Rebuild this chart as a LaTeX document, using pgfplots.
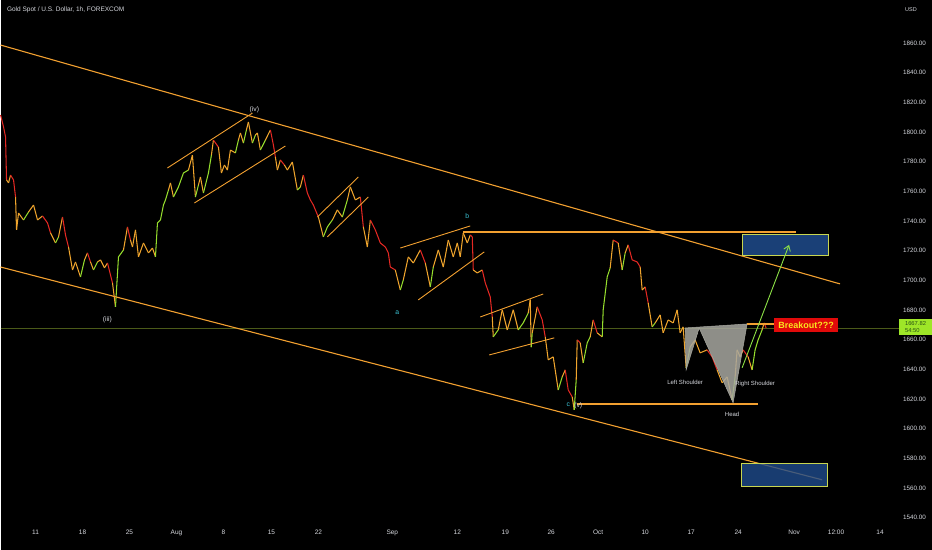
\documentclass[border=0pt]{standalone}
\usepackage{fontspec}
\setmainfont{Liberation Sans}
\usepackage{pgfplots}
\pgfplotsset{compat=1.18}
\usetikzlibrary{arrows.meta}

\definecolor{tvtext}{RGB}{214,216,222}
\definecolor{chan}{RGB}{242,160,48}
\definecolor{wave}{RGB}{60,196,214}
\definecolor{boxblue}{RGB}{31,76,140}
\definecolor{boxedge}{RGB}{200,214,80}
\definecolor{arrowgreen}{RGB}{140,225,70}
\definecolor{tag}{RGB}{158,230,40}
\definecolor{tagtext}{RGB}{40,80,20}
\definecolor{lastline}{RGB}{75,90,25}
\definecolor{hsgray}{RGB}{168,168,160}
\definecolor{brkred}{RGB}{225,10,10}
\definecolor{brkyellow}{RGB}{250,228,30}

\pgfplotsset{colormap={candle}{rgb255=(228,40,35) rgb255=(240,165,45) rgb255=(150,222,45)}}

\begin{document}
\begin{tikzpicture}
\fill[black] (0,0) rectangle (932pt,550pt);
\begin{axis}[
    at={(0pt,23pt)}, anchor=south west,
    scale only axis, width=899pt, height=527pt,
    xmin=0, xmax=899, ymin=1533.8, ymax=1889,
    clip=false,
    axis line style={draw=none},
    major tick length=0pt,
    xtick={35,82,129,176,223,271,318,392,457,505,551,598,645,691,738,794,836,880},
    xticklabels={11,18,25,Aug,8,15,22,Sep,12,19,26,Oct,10,17,24,Nov,12:00,14},
    xticklabel style={anchor=north, inner sep=0pt, yshift=-3pt, text=tvtext, font=\fontsize{6.5}{7}\selectfont},
    ytick={1540,1560,...,1860},
    yticklabel pos=right,
    yticklabel style={anchor=west, inner sep=0pt, xshift=4pt, text=tvtext, font=\fontsize{6.3}{7}\selectfont,
        /pgf/number format/fixed, /pgf/number format/fixed zerofill,
        /pgf/number format/precision=2, /pgf/number format/1000 sep={},
        /pgf/number format/assume math mode=true},
    colormap name=candle,
    point meta min=0, point meta max=1,
]

% last price line
\addplot[lastline, line width=0.6pt] coordinates {(0,1667.82) (899,1667.82)};

% price path (hourly candles traced), meta 1 = rising, 0 = falling
\addplot[mesh, point meta=explicit, line width=1.05pt] coordinates {
(0,1811.5)[0] (3,1803.4)[0] (5,1796.7)[0] (6,1767.7)[0] (8,1765.7)[1] (10,1771.0)[0]
(13,1767.7)[0] (15,1756.2)[0] (16,1734.0)[1] (18,1745.4)[0] (23,1740.7)[1] (28,1746.1)[1]
(33,1750.8)[0] (37,1740.7)[1] (42,1743.4)[0] (47,1738.7)[0] (50,1732.0)[0] (55,1725.2)[1]
(58,1729.3)[1] (62,1742.7)[0] (65,1730.6)[0] (68,1722.5)[0] (72,1707.0)[1] (75,1712.4)[0]
(80,1702.3)[1] (84,1713.8)[1] (87,1718.5)[0] (90,1712.4)[0] (93,1707.0)[1] (97,1712.4)[1]
(100,1713.8)[0] (104,1708.4)[1] (107,1711.7)[0] (112,1698.3)[0] (115,1682.1)[1] (118,1715.8)[1]
(123,1720.5)[1] (127,1736.0)[0] (130,1727.2)[0] (132,1722.5)[1] (135,1734.0)[0] (138,1715.8)[1]
(143,1725.2)[0] (148,1718.5)[1] (152,1721.8)[0] (155,1715.8)[1] (157,1738.7)[1] (160,1740.7)[1]
(163,1750.8)[1] (165,1754.2)[1] (168,1760.9)[1] (170,1765.7)[0] (173,1756.2)[1] (178,1763.0)[1]
(183,1772.4)[1] (188,1774.4)[1] (192,1784.5)[0] (195,1756.2)[1] (198,1764.3)[1] (200,1769.7)[0]
(203,1758.9)[1] (208,1772.4)[1] (211,1784.5)[1] (213,1794.6)[0] (218,1789.9)[0] (221,1772.4)[1]
(224,1777.8)[0] (227,1774.4)[1] (230,1787.9)[0] (235,1785.9)[1] (238,1794.6)[1] (240,1799.4)[0]
(243,1792.6)[1] (246,1801.4)[1] (248,1806.8)[0] (252,1792.6)[1] (255,1798.0)[1] (257,1799.4)[0]
(260,1787.9)[1] (265,1794.6)[1] (270,1801.4)[0] (273,1791.3)[0] (275,1783.2)[0] (277,1774.4)[1]
(280,1781.2)[0] (284,1777.8)[0] (287,1774.4)[1] (292,1779.8)[0] (297,1760.9)[1] (300,1763.0)[1]
(303,1771.0)[0] (307,1758.9)[0] (310,1754.2)[0] (313,1750.8)[0] (318,1742.7)[0] (323,1729.3)[1]
(327,1736.0)[1] (332,1740.7)[1] (337,1747.5)[0] (342,1742.7)[1] (347,1754.2)[1] (350,1763.0)[0]
(355,1754.2)[1] (360,1756.2)[0] (363,1736.0)[0] (367,1722.5)[1] (370,1740.7)[0] (375,1734.0)[0]
(380,1725.2)[0] (385,1722.5)[0] (388,1718.5)[0] (390,1709.0)[0] (395,1707.0)[0] (400,1693.5)[1]
(403,1700.3)[1] (408,1715.8)[0] (413,1711.7)[1] (420,1720.5)[0] (425,1711.7)[0] (430,1695.6)[1]
(433,1709.0)[1] (438,1720.5)[0] (443,1709.0)[1] (448,1727.2)[0] (453,1715.8)[1] (457,1725.2)[0]
(460,1715.8)[1] (463,1732.0)[0] (467,1725.2)[1] (470,1730.6)[0] (472,1729.3)[0] (473,1707.0)[0]
(477,1705.0)[1] (482,1707.0)[0] (485,1698.3)[0] (490,1688.8)[0] (492,1675.3)[0] (493,1661.9)[1]
(498,1666.6)[1] (502,1680.1)[0] (507,1666.6)[1] (513,1680.1)[0] (518,1666.6)[1] (523,1671.3)[1]
(528,1678.0)[1] (530,1687.0)[0] (531,1655.0)[1] (532,1664.6)[1] (537,1682.1)[0] (542,1673.3)[0]
(545,1661.9)[0] (548,1646.4)[1] (553,1648.4)[0] (558,1626.1)[1] (562,1634.9)[1] (565,1639.6)[0]
(568,1626.1)[0] (572,1621.4)[0] (574,1612.7)[1] (576,1632.9)[1] (577,1659.8)[0] (580,1657.8)[0]
(583,1644.3)[1] (587,1657.8)[1] (590,1661.9)[1] (593,1673.3)[0] (597,1664.6)[0] (602,1661.9)[1]
(603,1680.1)[1] (607,1702.3)[1] (610,1708.4)[1] (613,1727.2)[0] (618,1725.2)[0] (622,1707.0)[1]
(625,1718.5)[1] (628,1723.9)[0] (632,1713.8)[0] (637,1712.4)[0] (640,1709.0)[0] (642,1693.5)[1]
(645,1695.6)[0] (648,1684.8)[0] (652,1668.6)[1] (655,1671.3)[1] (660,1676.7)[0] (663,1664.6)[1]
(668,1673.3)[0] (673,1671.3)[1] (677,1680.1)[0] (680,1664.6)[1] (683,1668.6)[0] (686,1641.0)[1]
(690,1655.1)[1] (695,1659.8)[0] (700,1651.1)[1] (707,1653.1)[0] (712,1648.4)[0] (717,1639.6)[0]
(722,1630.9)[1] (727,1634.9)[0] (732,1619.4)[1] (735,1634.9)[1] (737,1653.1)[0] (740,1648.4)[1]
(743,1653.1)[0] (748,1648.4)[0] (752,1639.6)[1] (755,1653.1)[1] (758,1659.8)[1] (762,1666.6)[1]
(764,1671.3)[0] (766,1667.9)[0]
};

% main descending channel
\addplot[chan, line width=1.1pt] coordinates {(0,1858.7) (840,1697.6)};
\addplot[chan, line width=1.1pt] coordinates {(0,1709.0) (822,1565.5)};
% wave (iv) channel
\addplot[chan, line width=0.9pt] coordinates {(167,1775.8) (252,1812.8)};
\addplot[chan, line width=0.9pt] coordinates {(194,1752.2) (285,1790.6)};
% small flag
\addplot[chan, line width=0.9pt] coordinates {(317,1742.7) (358,1769.7)};
\addplot[chan, line width=0.9pt] coordinates {(327,1729.3) (368,1756.2)};
% wave b wedge
\addplot[chan, line width=0.9pt] coordinates {(400,1721.8) (470,1736.7)};
\addplot[chan, line width=0.9pt] coordinates {(418,1686.8) (484,1719.2)};
\addplot[chan, line width=1.4pt] coordinates {(463,1732.6) (796,1732.6)};
% september flag
\addplot[chan, line width=0.9pt] coordinates {(480,1675.3) (543,1690.8)};
\addplot[chan, line width=0.9pt] coordinates {(489,1649.7) (554,1661.2)};
% support under c/(v)
\addplot[chan, line width=1.3pt] coordinates {(577,1616.7) (758,1616.7)};

% target boxes
\addplot[draw=boxedge, fill=boxblue, fill opacity=0.85, line width=0.8pt]
    coordinates {(742,1716.5) (828,1716.5) (828,1731.3) (742,1731.3)} -- cycle;
\addplot[draw=boxedge, fill=boxblue, fill opacity=0.8, line width=0.8pt]
    coordinates {(741,1560.8) (827,1560.8) (827,1576.3) (741,1576.3)} -- cycle;

% inverse head and shoulders
\addplot[draw=hsgray, fill=hsgray, fill opacity=0.85, line width=0.5pt]
    coordinates {(685,1667.9) (686,1639.6) (699,1667.9) (733,1617.4) (747,1670.6)} -- cycle;
\addplot[chan, line width=1.3pt] coordinates {(747,1670.6) (774,1670.6)};

% projected move
\addplot[arrowgreen, line width=0.9pt, -{Straight Barb[length=5pt,width=7pt]}]
    coordinates {(742,1641.0) (789,1723.9)};

% labels
\node[anchor=west, text=tvtext, font=\fontsize{6.5}{8}\selectfont] at (axis cs:3,1882.3) {Gold Spot / U.S. Dollar, 1h, FOREXCOM};
\node[text=tvtext, font=\fontsize{5.5}{7}\selectfont] at (axis cs:911,1882.9) {USD};
\node[text=tvtext, font=\fontsize{6.8}{8}\selectfont] at (axis cs:254,1814.9) {(iv)};
\node[text=tvtext, font=\fontsize{6.8}{8}\selectfont] at (axis cs:107,1673.3) {(iii)};
\node[text=wave, font=\fontsize{6.8}{8}\selectfont] at (axis cs:397,1678.0) {a};
\node[text=wave, font=\fontsize{6.8}{8}\selectfont] at (axis cs:467,1743.4) {b};
\node[text=wave, font=\fontsize{6.8}{8}\selectfont] at (axis cs:568,1616.2) {c};
\node[text=tvtext, font=\fontsize{6.8}{8}\selectfont] at (axis cs:578,1615.4) {(v)};
\node[text=tvtext, font=\fontsize{6}{7}\selectfont] at (axis cs:685,1630.9) {Left Shoulder};
\node[text=tvtext, font=\fontsize{6}{7}\selectfont] at (axis cs:755,1630.2) {Right Shoulder};
\node[text=tvtext, font=\fontsize{6}{7}\selectfont] at (axis cs:732,1609.3) {Head};
\node[fill=brkred, text=brkyellow, font=\bfseries\fontsize{9}{10}\selectfont, inner xsep=4pt, inner ysep=4pt] at (axis cs:806,1670.0) {Breakout???};
\node[fill=tag, text=tagtext, font=\fontsize{5.8}{6.5}\selectfont, align=left, minimum width=33pt, inner xsep=2pt, inner ysep=2.5pt] at (axis cs:915.5,1668.5) {1667.82\\54:50};
\end{axis}
\end{tikzpicture}
\end{document}
